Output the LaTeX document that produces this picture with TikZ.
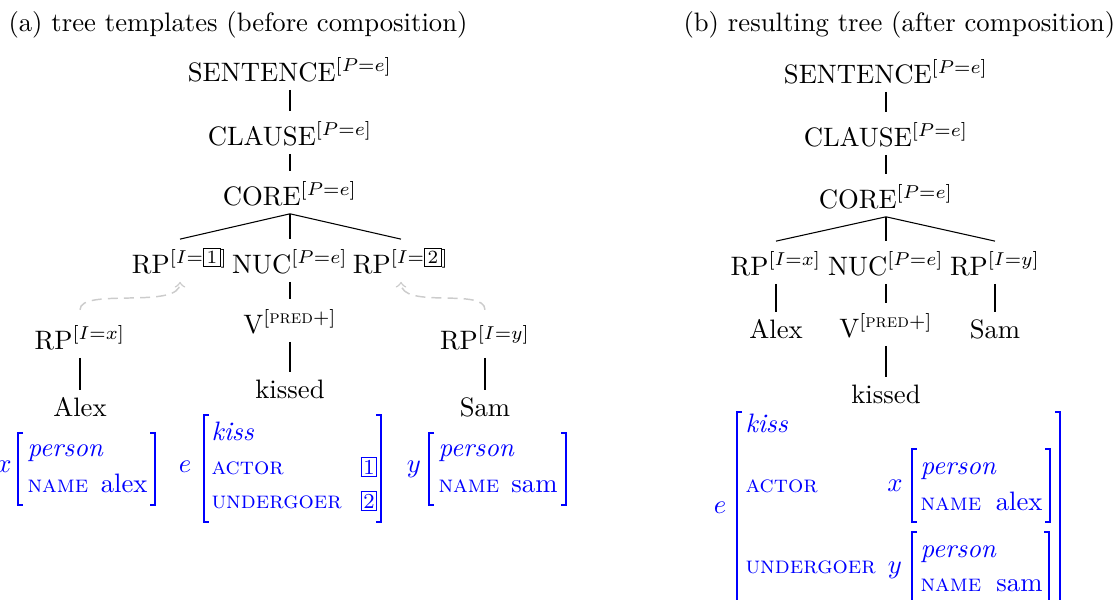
\documentclass[tikz,border=0pt]{standalone}
\usetikzlibrary{positioning}

\begin{document}
\begin{tikzpicture}[x=0.375pt,y=-0.375pt]
    \tikzstyle{every node}=[inner sep=0pt]
    \tikzstyle{cat}=[anchor=base, outer sep=3.3pt, text height=9.4pt, text depth=0pt]
    \tikzstyle{word}=[cat, text height=6.6pt]
    \tikzstyle{branch}=[draw=black, line width=0.4pt]
    \tikzstyle{link}=[->, draw=gray!40, dash pattern=on 3.75pt off 2.3pt, line width=0.55pt, shorten <=2pt]
    \tikzstyle{avm}=[text=blue]
    \tikzstyle{var}=[avm, anchor=base]
    \tikzstyle{type}=[avm, anchor=base west, font=\itshape]
    \tikzstyle{feat}=[avm, anchor=base west, font=\small\scshape]
    \tikzstyle{val}=[avm, anchor=base east]
    \tikzstyle{bracket}=[draw=blue, line width=0.75pt]

    \newcommand{\supfeat}[1]{$^{[#1]}$}
    \newcommand{\tagbox}[2][0.6pt]{{\setlength{\fboxsep}{#1}\setlength{\fboxrule}{0.4pt}\fbox{#2}}}

    \useasboundingbox (0,0) rectangle (1116,600);

    % Titles
    \node[anchor=base west] (title-a) at (8,31) {(a) tree templates (before composition)};
    \node[anchor=base west] (title-b) at (683,31) {(b) resulting tree (after composition)};

    % Draw the template trees
    \node[cat] (a-s) at (290,81) {SENTENCE\supfeat{P=e}};
    \node[cat] (a-c) at (290,145) {CLAUSE\supfeat{P=e}};
    \node[cat] (a-core) at (290,205) {CORE\supfeat{P=e}};
    \node[cat] (a-rp1) at (180,273) {RP\supfeat{I=\tagbox[0.9pt]{$\scriptstyle 1$}}};
    \node[cat] (a-nuc) at (290,273) {NUC\supfeat{P=e}};
    \node[cat] (a-rp2) at (401,273) {RP\supfeat{I=\tagbox[0.9pt]{$\scriptstyle 2$}}};
    \node[cat] (a-v) at (290,333) {V\supfeat{\mbox{\scriptsize\textsc{pred}}+}};
    \node[word] (a-kissed) at (290,398) {kissed};
    \node[cat] (a-rpx) at (80,349) {RP\supfeat{I=x}};
    \node[word] (a-alex) at (80,416) {Alex};
    \node[cat] (a-rpy) at (485,349) {RP\supfeat{I=y}};
    \node[word] (a-sam) at (485,416) {Sam};

    \foreach \a/\b in {a-s/a-c, a-c/a-core, a-core/a-rp1, a-core/a-nuc, a-core/a-rp2,
                       a-nuc/a-v, a-v/a-kissed, a-rpx/a-alex, a-rpy/a-sam}
        \draw[branch] (\a.south) -- (\b.north);

    % Substitution links
    \draw[link] (a-rpx.north) .. controls +(0,-28) and +(0,28) .. (a-rp1.south);
    \draw[link] (a-rpy.north) .. controls +(0,-28) and +(0,28) .. (a-rp2.south);

    % Draw the resulting tree
    \node[cat] (b-s) at (886,83) {SENTENCE\supfeat{P=e}};
    \node[cat] (b-c) at (886,146) {CLAUSE\supfeat{P=e}};
    \node[cat] (b-core) at (886,208) {CORE\supfeat{P=e}};
    \node[cat] (b-rpx) at (776,275) {RP\supfeat{I=x}};
    \node[cat] (b-nuc) at (886,275) {NUC\supfeat{P=e}};
    \node[cat] (b-rpy) at (995,275) {RP\supfeat{I=y}};
    \node[word] (b-alex) at (776,338) {Alex};
    \node[cat] (b-v) at (886,337) {V\supfeat{\mbox{\scriptsize\textsc{pred}}+}};
    \node[word] (b-sam) at (995,338) {Sam};
    \node[word] (b-kissed) at (886,403) {kissed};

    \foreach \a/\b in {b-s/b-c, b-c/b-core, b-core/b-rpx, b-core/b-nuc, b-core/b-rpy,
                       b-rpx/b-alex, b-nuc/b-v, b-rpy/b-sam, b-v/b-kissed}
        \draw[branch] (\a.south) -- (\b.north);

    % Feature structures: brackets
    \foreach \l/\r/\t/\b in {18/155/433/505, 204/381/415/522, 429/566/433/505,
                             737/1060/412/612, 912/1050/449/522, 912/1049/532/612}
    {
        \draw[bracket] (\l+5,\t) -| (\l,\b) -- (\l+5,\b);
        \draw[bracket] (\r-5,\t) -| (\r,\b) -- (\r-5,\b);
    }

    % Feature structures (a)
    \node[var] (x-var) at (4,472) {$x$};
    \node[type] (x-type) at (27,456) {person};
    \node[feat] (x-name) at (27,492) {name};
    \node[val] (x-alex) at (148,492) {alex};

    \node[var] (e-var) at (185,472) {$e$};
    \node[type] (e-type) at (211,440) {kiss};
    \node[feat] (e-actor) at (211,474) {actor};
    \node[feat] (e-und) at (211,508) {undergoer};
    \node[var] (e-1) at (369,474) {\tagbox{\footnotesize 1}};
    \node[var] (e-2) at (369,508) {\tagbox{\footnotesize 2}};

    \node[var] (y-var) at (414,472) {$y$};
    \node[type] (y-type) at (438,456) {person};
    \node[feat] (y-name) at (438,492) {name};
    \node[val] (y-sam) at (558,492) {sam};

    % Feature structure (b)
    \node[var] (r-var) at (720,513) {$e$};
    \node[type] (r-type) at (745,432) {kiss};
    \node[feat] (r-actor) at (745,492) {actor};
    \node[feat] (r-und) at (745,573) {undergoer};
    \node[var] (rx-var) at (895,491) {$x$};
    \node[type] (rx-type) at (920,474) {person};
    \node[feat] (rx-name) at (920,510) {name};
    \node[val] (rx-alex) at (1043,510) {alex};
    \node[var] (ry-var) at (895,573) {$y$};
    \node[type] (ry-type) at (920,557) {person};
    \node[feat] (ry-name) at (920,591) {name};
    \node[val] (ry-sam) at (1043,591) {sam};
\end{tikzpicture}
\end{document}
